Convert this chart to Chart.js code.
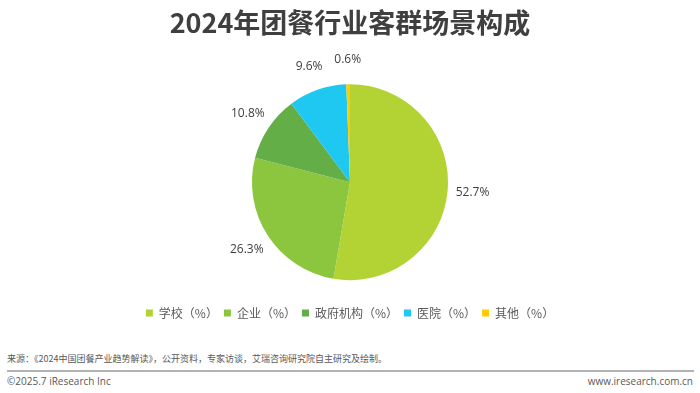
<!DOCTYPE html>
<html>
<head>
<meta charset="utf-8">
<script src="https://cdn.jsdelivr.net/npm/chart.js@4"></script>
<style>
  body { margin: 0; width: 700px; height: 393px; background: #fff; overflow: hidden; position: relative;
         font-family: "Noto Sans CJK SC", "Noto Sans", sans-serif; }
  #pieChart { position: absolute; left: 0; top: 0; }
  .source { position: absolute; left: 7px; top: 352px; font-size: 9px; color: #595959; }
  .rule { position: absolute; left: 7px; top: 370px; width: 687px; height: 2px; background: #b3b3b3; }
  .copy { position: absolute; left: 7px; top: 374px; font-size: 10px; color: #595959; font-family: "Open Sans", sans-serif; }
  .site { position: absolute; right: 7px; top: 374px; font-size: 10px; color: #595959; font-family: "Open Sans", sans-serif; }
</style>
</head>
<body>
<canvas id="pieChart" width="700" height="329"></canvas>
<div class="source">来源：《2024中国团餐产业趋势解读》，公开资料，专家访谈，艾瑞咨询研究院自主研究及绘制。</div>
<div class="rule"></div>
<div class="copy">©2025.7 iResearch Inc</div>
<div class="site">www.iresearch.com.cn</div>
<script>
const categories = ['学校（%）', '企业（%）', '政府机构（%）', '医院（%）', '其他（%）'];
const shares = [52.7, 26.3, 10.8, 9.6, 0.6];
const sliceColors = ['#B3D334', '#8CC63F', '#64AE47', '#1FC8F0', '#FFCC00'];

// draws the percentage next to each slice, just outside the pie
const outsideLabels = {
    id: 'outsideLabels',
    afterDatasetsDraw(chart) {
        const ctx = chart.ctx;
        const meta = chart.getDatasetMeta(0);
        ctx.save();
        ctx.font = '12px "Open Sans", "Noto Sans", sans-serif';
        ctx.fillStyle = '#404040';
        ctx.textAlign = 'center';
        ctx.textBaseline = 'middle';
        meta.data.forEach((arc, i) => {
            const mid = (arc.startAngle + arc.endAngle) / 2;
            const r = arc.outerRadius + 25;
            const x = arc.x + Math.cos(mid) * r;
            const y = arc.y + Math.sin(mid) * r;
            ctx.fillText(shares[i].toFixed(1) + '%', x, y);
        });
        ctx.restore();
    }
};

new Chart(document.getElementById('pieChart').getContext('2d'), {
    type: 'pie',
    data: {
        labels: categories,
        datasets: [{
            data: shares,
            backgroundColor: sliceColors,
            borderWidth: 0,
            radius: 98
        }]
    },
    options: {
        responsive: false,
        animation: false,
        devicePixelRatio: 1,
        plugins: {
            title: {
                display: true,
                text: '2024年团餐行业客群场景构成',
                color: '#3f3f3f',
                font: { family: '"Noto Sans CJK SC"', size: 27, weight: 'bold' },
                padding: { top: 7, bottom: 24 }
            },
            legend: {
                position: 'bottom',
                labels: {
                    boxWidth: 7,
                    boxHeight: 7,
                    padding: 6,
                    color: '#595959',
                    font: { family: '"Noto Sans CJK SC"', size: 12 }
                }
            },
            tooltip: { enabled: false }
        }
    },
    plugins: [outsideLabels]
});
</script>
</body>
</html>
